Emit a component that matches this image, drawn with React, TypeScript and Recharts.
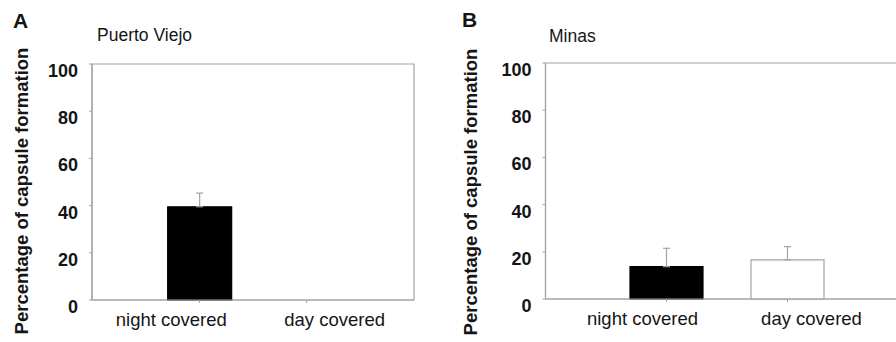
import React from 'react';
import { BarChart, Bar, Cell, XAxis, YAxis, ErrorBar, ReferenceArea } from 'recharts';

// values (percent of capsule formation, upper SE only)
const categories = ['night covered', 'day covered'];
const puertoViejoValues = [39.5, 0];
const puertoViejoErrors: (number | null)[] = [5.8, null];
const minasValues = [13.7, 16.6];
const minasErrors: (number | null)[] = [7.8, 5.6];
const yTicks = [0, 20, 40, 60, 80, 100];
const barFills = ['#000000', '#ffffff'];

const AXIS = '#a3a3a3';
const INK = '#151515';
const FONT = '"Liberation Sans", Arial, Helvetica, sans-serif';

const buildRows = (values: number[], errors: (number | null)[]) =>
    categories.map((cat, i) => ({
        pos: i + 1,
        cat,
        value: values[i],
        err: errors[i] == null ? null : [0, errors[i]],
    }));

const YTick = (props: any) => (
    <text x={props.x} y={props.y + 13} textAnchor="end" fontFamily={FONT} fontWeight="bold" fontSize={18} fill={INK}>
        {props.payload.value}
    </text>
);

// labels sit at the quarter points, ticks at the thirds (like the original Excel layout)
const makeXTick = (shift: number) => (props: any) => {
    const idx = props.payload.value - 1;
    const dx = idx === 0 ? -shift : shift;
    return (
        <text x={props.x + dx} y={props.y + 21} textAnchor="middle" fontFamily={FONT} fontSize={18.5} fill={INK}>
            {categories[idx]}
        </text>
    );
};

interface PanelProps {
    values: number[];
    errors: (number | null)[];
    width: number;
    margin: { top: number; right: number; bottom: number; left: number };
    barSize: number;
    labelShift: number;
}

const Panel: React.FC<PanelProps> = ({ values, errors, width, margin, barSize, labelShift }) => {
    const rows = buildRows(values, errors);
    return (
        <BarChart width={width} height={342} data={rows} margin={margin}>
            <ReferenceArea x1={0} x2={3} y1={0} y2={100} fill="none" stroke={AXIS} strokeWidth={1.2} ifOverflow="visible" />
            <XAxis
                type="number"
                dataKey="pos"
                domain={[0, 3]}
                ticks={[1, 2]}
                height={30}
                tickSize={3}
                tickMargin={2}
                axisLine={{ stroke: AXIS, strokeWidth: 1.2 }}
                tickLine={{ stroke: AXIS }}
                tick={makeXTick(labelShift)}
            />
            <YAxis
                domain={[0, 100]}
                ticks={yTicks}
                width={60}
                tickSize={3}
                tickMargin={11}
                axisLine={{ stroke: AXIS, strokeWidth: 1.2 }}
                tickLine={{ stroke: AXIS }}
                tick={<YTick />}
            />
            <Bar dataKey="value" barSize={barSize} isAnimationActive={false}>
                {rows.map((_, i) => (
                    <Cell key={`c-${i}`} fill={barFills[i]} stroke={i === 0 ? '#000000' : AXIS} strokeWidth={1.2} />
                ))}
                <ErrorBar dataKey="err" direction="y" width={3.5} stroke={AXIS} strokeWidth={1.2} isAnimationActive={false} />
            </Bar>
        </BarChart>
    );
};

const App: React.FC = () => {
    const label = { fontFamily: FONT, fill: INK };
    return (
        <div style={{ position: 'fixed', left: 0, top: 0, width: 896, height: 342, overflow: 'hidden', background: '#fff' }}>
            <div style={{ position: 'absolute', left: 0, top: 0 }}>
                <Panel
                    values={puertoViejoValues}
                    errors={puertoViejoErrors}
                    width={440}
                    margin={{ top: 64, right: 26, bottom: 12, left: 32 }}
                    barSize={64}
                    labelShift={28}
                />
            </div>
            <div style={{ position: 'absolute', left: 440, top: 0 }}>
                <Panel
                    values={minasValues}
                    errors={minasErrors}
                    width={480}
                    margin={{ top: 63, right: 11.5, bottom: 13, left: 45.5 }}
                    barSize={73}
                    labelShift={24}
                />
            </div>
            <svg width={896} height={342} style={{ position: 'absolute', left: 0, top: 0, pointerEvents: 'none' }}>
                <text x={13} y={28} fontSize={21} fontWeight="bold" {...label}>A</text>
                <text x={97} y={41} fontSize={17.5} {...label}>Puerto Viejo</text>
                <text transform="translate(28,191) rotate(-90)" textAnchor="middle" fontSize={18.5} fontWeight="bold" {...label}>
                    Percentage of capsule formation
                </text>
                <text x={462} y={27} fontSize={21} fontWeight="bold" {...label}>B</text>
                <text x={549} y={42} fontSize={17.5} {...label}>Minas</text>
                <text transform="translate(477,192) rotate(-90)" textAnchor="middle" fontSize={18.5} fontWeight="bold" {...label}>
                    Percentage of capsule formation
                </text>
            </svg>
        </div>
    );
};

export default App;
